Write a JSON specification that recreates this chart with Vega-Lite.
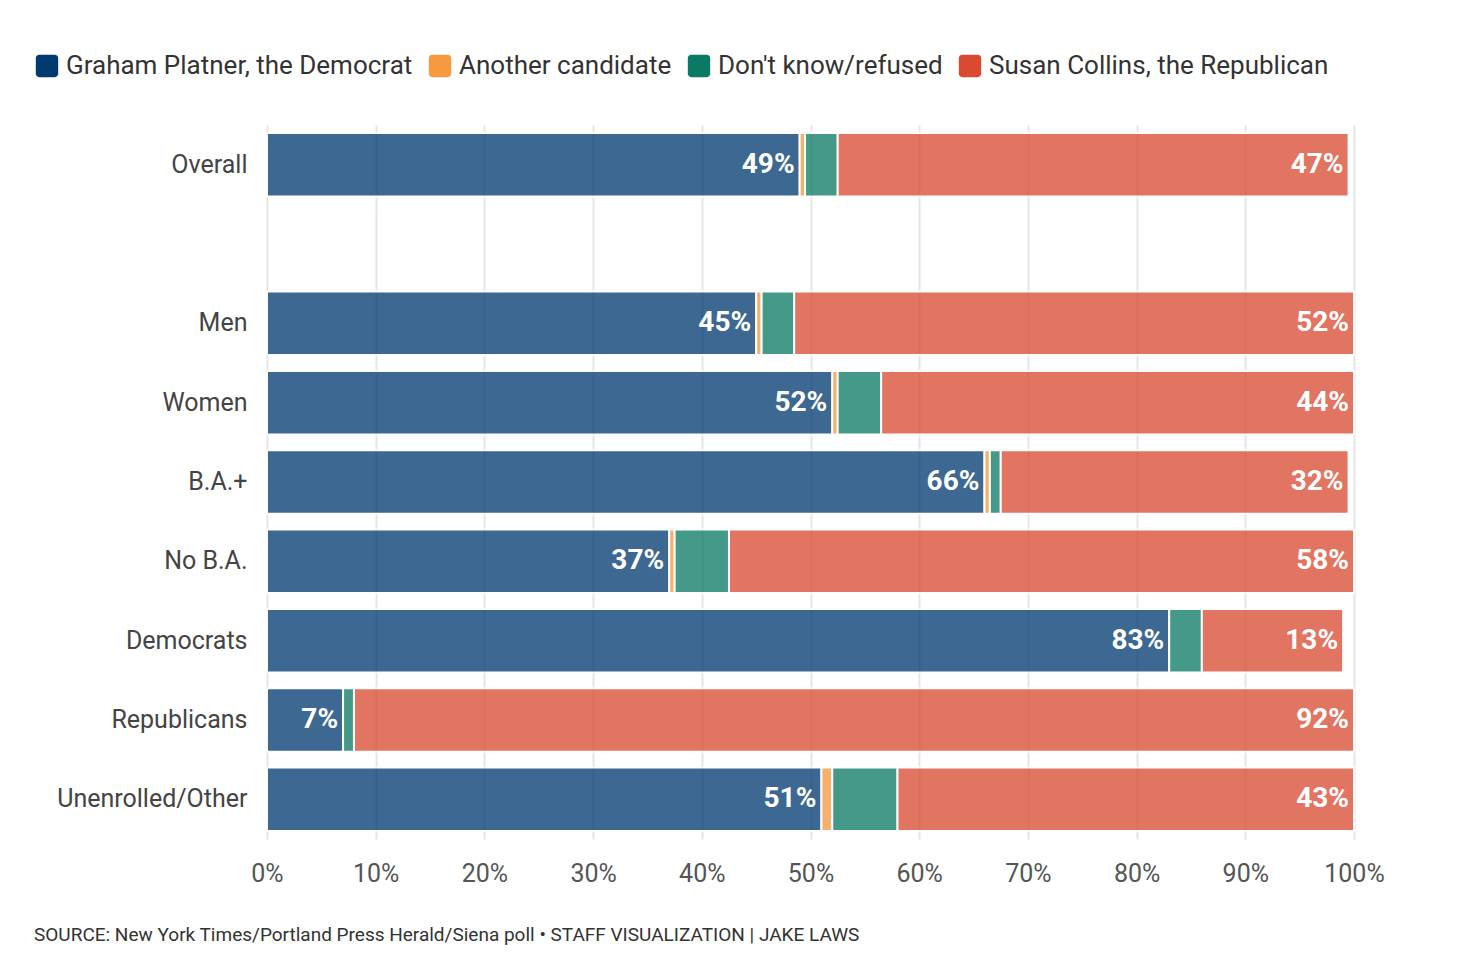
{
  "$schema": "https://vega.github.io/schema/vega-lite/v6.json",
  "width": 1087,
  "height": 714,
  "autosize": {"type": "none"},
  "padding": {"left": 267, "top": 125, "right": 130, "bottom": 127},
  "background": "white",
  "title": {
    "text": "SOURCE: New York Times/Portland Press Herald/Siena poll • STAFF VISUALIZATION | JAKE LAWS",
    "orient": "bottom", "anchor": "start", "frame": "bounds", "offset": 40,
    "fontSize": 19, "fontWeight": "normal", "color": "#333", "font": "Roboto"
  },
  "data": {"values": [
    {"group": "Overall", "candidate": "Graham Platner, the Democrat", "o": 1, "value": 49},
    {"group": "Overall", "candidate": "Another candidate", "o": 2, "value": 0.5},
    {"group": "Overall", "candidate": "Don't know/refused", "o": 3, "value": 3},
    {"group": "Overall", "candidate": "Susan Collins, the Republican", "o": 4, "value": 47},
    {"group": "Men", "candidate": "Graham Platner, the Democrat", "o": 1, "value": 45},
    {"group": "Men", "candidate": "Another candidate", "o": 2, "value": 0.5},
    {"group": "Men", "candidate": "Don't know/refused", "o": 3, "value": 3},
    {"group": "Men", "candidate": "Susan Collins, the Republican", "o": 4, "value": 52},
    {"group": "Women", "candidate": "Graham Platner, the Democrat", "o": 1, "value": 52},
    {"group": "Women", "candidate": "Another candidate", "o": 2, "value": 0.5},
    {"group": "Women", "candidate": "Don't know/refused", "o": 3, "value": 4},
    {"group": "Women", "candidate": "Susan Collins, the Republican", "o": 4, "value": 44},
    {"group": "B.A.+", "candidate": "Graham Platner, the Democrat", "o": 1, "value": 66},
    {"group": "B.A.+", "candidate": "Another candidate", "o": 2, "value": 0.5},
    {"group": "B.A.+", "candidate": "Don't know/refused", "o": 3, "value": 1},
    {"group": "B.A.+", "candidate": "Susan Collins, the Republican", "o": 4, "value": 32},
    {"group": "No B.A.", "candidate": "Graham Platner, the Democrat", "o": 1, "value": 37},
    {"group": "No B.A.", "candidate": "Another candidate", "o": 2, "value": 0.5},
    {"group": "No B.A.", "candidate": "Don't know/refused", "o": 3, "value": 5},
    {"group": "No B.A.", "candidate": "Susan Collins, the Republican", "o": 4, "value": 58},
    {"group": "Democrats", "candidate": "Graham Platner, the Democrat", "o": 1, "value": 83},
    {"group": "Democrats", "candidate": "Another candidate", "o": 2, "value": 0},
    {"group": "Democrats", "candidate": "Don't know/refused", "o": 3, "value": 3},
    {"group": "Democrats", "candidate": "Susan Collins, the Republican", "o": 4, "value": 13},
    {"group": "Republicans", "candidate": "Graham Platner, the Democrat", "o": 1, "value": 7},
    {"group": "Republicans", "candidate": "Another candidate", "o": 2, "value": 0},
    {"group": "Republicans", "candidate": "Don't know/refused", "o": 3, "value": 1},
    {"group": "Republicans", "candidate": "Susan Collins, the Republican", "o": 4, "value": 92},
    {"group": "Unenrolled/Other", "candidate": "Graham Platner, the Democrat", "o": 1, "value": 51},
    {"group": "Unenrolled/Other", "candidate": "Another candidate", "o": 2, "value": 1},
    {"group": "Unenrolled/Other", "candidate": "Don't know/refused", "o": 3, "value": 6},
    {"group": "Unenrolled/Other", "candidate": "Susan Collins, the Republican", "o": 4, "value": 43}
  ]},
  "transform": [
    {"stack": "value", "groupby": ["group"], "sort": [{"field": "o"}], "as": ["start", "end0"]},
    {"calculate": "min(datum.end0, 100)", "as": "end"},
    {"calculate": "format(datum.value, '.0f') + '%'", "as": "label"}
  ],
  "encoding": {
    "y": {
      "field": "group", "type": "nominal", "title": null,
      "scale": {"domain": ["Overall", " ", "Men", "Women", "B.A.+", "No B.A.", "Democrats", "Republicans", "Unenrolled/Other"], "paddingInner": 0.2, "paddingOuter": 0.1},
      "axis": {"labelFontSize": 25, "labelColor": "#444", "labelFont": "Roboto", "labelLimit": 400, "ticks": false, "domain": false, "labelPadding": 20}
    }
  },
  "layer": [
    {
      "mark": {"type": "bar", "opacity": 0.76, "stroke": "white", "strokeWidth": 2},
      "encoding": {
        "x": {
          "field": "start", "type": "quantitative", "title": null,
          "scale": {"domain": [0, 100], "nice": false},
          "axis": {"values": [0, 10, 20, 30, 40, 50, 60, 70, 80, 90, 100], "labelExpr": "datum.value + '%'", "labelFlush": false, "labelFontSize": 25, "labelColor": "#555", "labelFont": "Roboto", "labelPadding": 22, "ticks": false, "domain": false, "grid": true, "gridColor": "#e6e6e6", "gridWidth": 2}
        },
        "x2": {"field": "end"},
        "color": {
          "field": "candidate", "type": "nominal", "title": null,
          "scale": {"domain": ["Graham Platner, the Democrat", "Another candidate", "Don't know/refused", "Susan Collins, the Republican"], "range": ["#003a70", "#f7993f", "#0a7a64", "#d94a30"]},
          "legend": {"orient": "none", "legendX": -233, "legendY": -72, "direction": "horizontal", "labelFontSize": 26, "labelFont": "Roboto", "labelColor": "#333", "labelLimit": 500, "symbolType": "M-0.7,-1H0.7A0.3,0.3 0 0 1 1,-0.7V0.7A0.3,0.3 0 0 1 0.7,1H-0.7A0.3,0.3 0 0 1 -1,0.7V-0.7A0.3,0.3 0 0 1 -0.7,-1Z", "symbolSize": 500, "symbolOpacity": 1, "symbolStrokeWidth": 0, "columnPadding": 14, "labelOffset": 6}
        }
      }
    },
    {
      "transform": [{"filter": "datum.o == 1 || datum.o == 4"}],
      "mark": {"type": "text", "align": "right", "dx": -5, "fontSize": 28, "fontWeight": "bold", "color": "white", "font": "Roboto"},
      "encoding": {
        "x": {"field": "end", "type": "quantitative"},
        "text": {"field": "label", "type": "nominal"},
        "detail": {"field": "candidate"}
      }
    }
  ],
  "config": {"view": {"stroke": null}}
}
